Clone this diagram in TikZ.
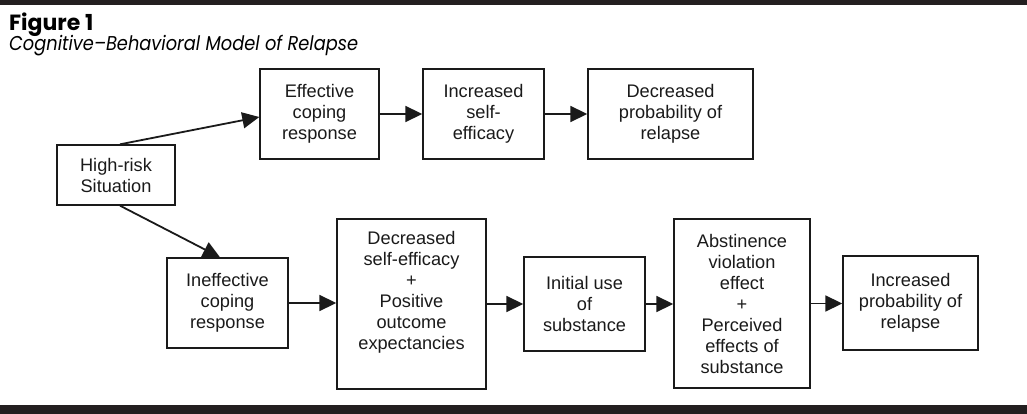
\documentclass[tikz,border=0pt]{standalone}
\usepackage{fontspec}
\setmainfont{Liberation Sans}
\newfontfamily\titlefont{Poppins}
\newfontfamily\capfont[FakeStretch=0.89]{Poppins}
\usetikzlibrary{arrows.meta,calc}
\definecolor{barc}{HTML}{231F20}
\definecolor{ink}{HTML}{1A1A1A}
\tikzset{
  box/.style={draw=ink, line width=1.4pt, align=center, inner sep=0pt,
    font=\fontsize{18.2pt}{21pt}\selectfont, text=ink},
  txt/.style={align=center, inner sep=0pt, font=\fontsize{18.2pt}{21pt}\selectfont, text=ink},
  arr/.style={draw=ink, line width=1.8pt, -{Triangle[length=17pt,width=16pt]}},
}
\begin{document}
\begin{tikzpicture}[x=1pt,y=-1pt]
\useasboundingbox (0,0) rectangle (1027,414);
\fill[barc] (0,0) rectangle (1027,5);
\fill[barc] (0,405) rectangle (1027,414);
\node[anchor=base west, inner sep=0pt, font=\titlefont\bfseries\fontsize{22pt}{24pt}\selectfont] (fig) at (9,31) {Figure 1};
\node[anchor=base west, inner sep=0pt, font=\capfont\itshape\fontsize{20pt}{24pt}\selectfont] (cap) at (9,51) {Cognitive–Behavioral Model of Relapse};

\node[box, minimum width=118pt, minimum height=60pt] (hr) at (116,175) {High-risk\\Situation};
\node[box, minimum width=119pt, minimum height=90pt] (eff) at (319.5,114) {Effective\\coping\\response};
\node[box, minimum width=121pt, minimum height=90pt] (ise) at (483.5,114) {Increased\\self-\\efficacy};
\node[box, minimum width=165pt, minimum height=90pt] (dpr) at (670.5,114) {Decreased\\probability of\\relapse};
\node[box, minimum width=121pt, minimum height=90pt] (ine) at (227.5,303) {Ineffective\\coping\\response};
\node[box, minimum width=149pt, minimum height=170pt] (dse) at (411.5,304) {};
\node[txt, anchor=north] (dsetxt) at ([yshift=-13pt]dse.north) {Decreased\\self-efficacy\\+\\Positive\\outcome\\expectancies};
\node[box, minimum width=121pt, minimum height=94pt] (ini) at (584.5,304) {Initial use\\of\\substance};
\node[box, minimum width=136pt, minimum height=169pt] (avi) at (742,303.5) {Abstinence\\violation\\effect\\+\\Perceived\\effects of\\substance};
\node[box, minimum width=135pt, minimum height=94pt] (ipr) at (910.5,303) {Increased\\probability of\\relapse};

\draw[arr] ($(hr.north west)!0.534!(hr.north east)$) -- ([yshift=-3pt]eff.west);
\draw[arr] ($(hr.south west)!0.534!(hr.south east)$) -- ([xshift=-7.5pt]ine.north);
\draw[arr] (eff.east) -- (ise.west);
\draw[arr] (ise.east) -- (dpr.west);
\draw[arr] (ine.east) -- (ine.east -| dse.west);
\draw[arr] (dse.east) -- (dse.east -| ini.west);
\draw[arr] (ini.east) -- (ini.east -| avi.west);
\draw[arr] (avi.east) -- (avi.east -| ipr.west);
\end{tikzpicture}
\end{document}
